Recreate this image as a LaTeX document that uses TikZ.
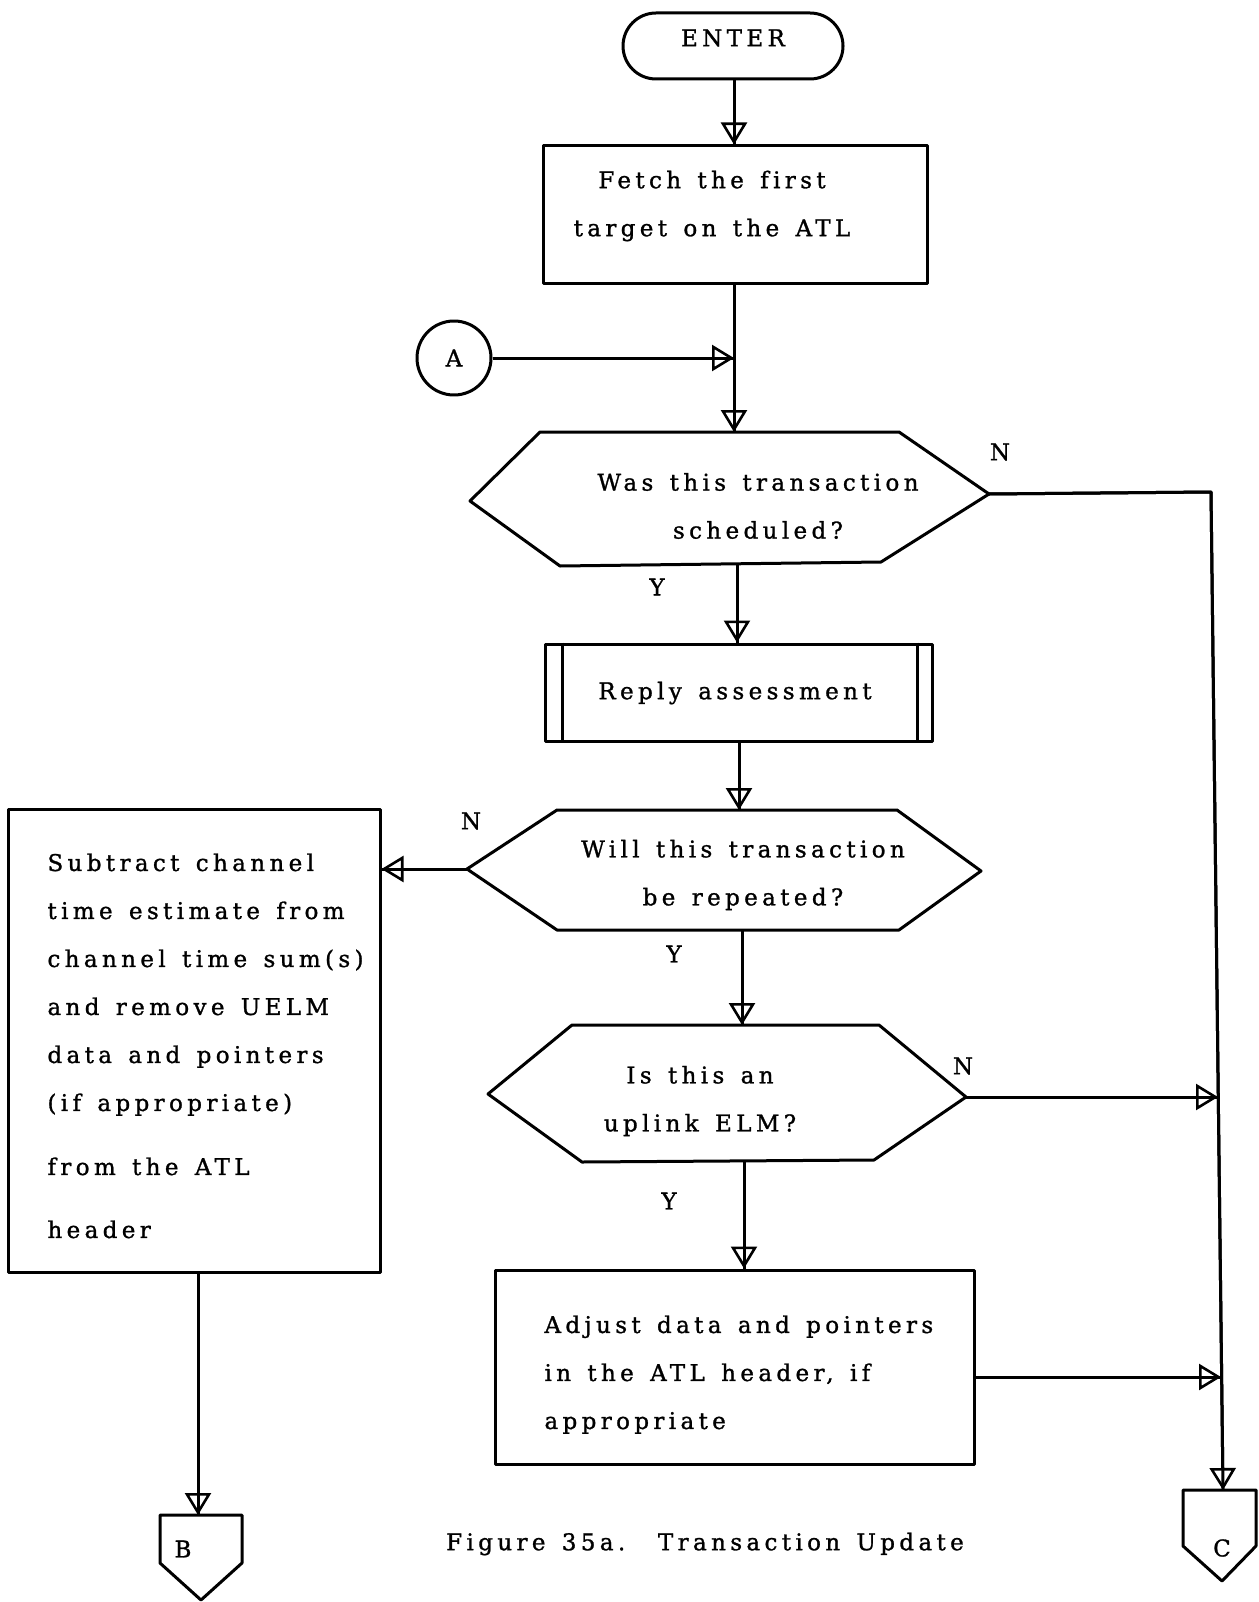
\documentclass[tikz,border=0pt]{standalone}
\usepackage{fontspec}
\setmainfont{DejaVu Serif}[LetterSpace=19,WordSpace=1.4,FakeBold=1.2,Ligatures=NoCommon]
\usetikzlibrary{arrows.meta,calc}
\begin{document}
\begin{tikzpicture}[x=1pt,y=-1pt, line width=3pt, line join=round,
  txt/.style={font=\fontsize{23}{48}\selectfont, inner sep=0pt, align=center},
  box/.style={draw, line width=3pt, inner sep=0pt},
  flow/.style={-{Triangle[open,length=22pt,width=26pt,line width=2.6pt]}, postaction={draw,-}},
  lbl/.style={font=\fontsize{23}{28}\selectfont, inner sep=0pt}]
\useasboundingbox (0,0) rectangle (1258,1602);

% ENTER
\node[box, rounded corners=33pt, minimum width=220pt, minimum height=66pt] (enter) at (733,46) {};
\node[txt] (entertxt) at (733,38) {ENTER};

% Fetch
\node[box, minimum width=384pt, minimum height=138pt] (fetch) at (735,215) {};
\node[txt] (fetchtxt) at (712,206) {Fetch the first\\target on the ATL};

% connector A
\node[draw, circle, minimum size=74pt, inner sep=0pt, font=\fontsize{23}{28}\selectfont] (A) at (454,358) {A};
\coordinate (j) at (734,358);

% Hexagon 1
\coordinate (q1w) at (470,501);
\coordinate (q1nw) at (540,432);
\coordinate (q1ne) at (899,432);
\coordinate (q1e) at (989,494);
\coordinate (q1se) at (881,562);
\coordinate (q1sw) at (560,566);
\coordinate (q1n) at (734,432);
\coordinate (q1s) at (737,564);
\draw (q1w) -- (q1nw) -- (q1ne) -- (q1e) -- (q1se) -- (q1sw) -- cycle;
\node[txt] (q1txt) at (758,506) {Was this transaction\\scheduled?};

% Reply assessment
\node[box, minimum width=387pt, minimum height=97pt] (rep) at (738.5,692.5) {};
\draw ($(rep.north west)+(19,0)$) -- ($(rep.south west)+(19,0)$);
\draw ($(rep.north east)+(-16,0)$) -- ($(rep.south east)+(-16,0)$);
\node[txt] (reptxt) at (735,693) {Reply assessment};

% Hexagon 2
\coordinate (q2w) at (467,869);
\coordinate (q2nw) at (557,810);
\coordinate (q2ne) at (897,810);
\coordinate (q2e) at (981,871);
\coordinate (q2se) at (899,930);
\coordinate (q2sw) at (557,930);
\coordinate (q2n) at (739,810);
\coordinate (q2s) at (742,930);
\draw (q2w) -- (q2nw) -- (q2ne) -- (q2e) -- (q2se) -- (q2sw) -- cycle;
\node[txt] (q2txt) at (743,875) {Will this transaction\\be repeated?};

% Left box
\node[box, minimum width=372pt, minimum height=463pt] (sub) at (194,1040.5) {};
\node[txt, align=left, anchor=north west] (subtxt) at (46,852) {Subtract channel\\time estimate from\\channel time sum(s)\\and remove UELM\\data and pointers\\(if appropriate)\\[16pt]from the ATL\\[15pt]header};

% Hexagon 3
\coordinate (q3w) at (488,1094);
\coordinate (q3nw) at (572,1025);
\coordinate (q3ne) at (879,1025);
\coordinate (q3e) at (966,1097);
\coordinate (q3se) at (874,1160);
\coordinate (q3sw) at (582,1162);
\coordinate (q3n) at (742,1025);
\coordinate (q3s) at (744,1161);
\draw (q3w) -- (q3nw) -- (q3ne) -- (q3e) -- (q3se) -- (q3sw) -- cycle;
\node[txt] (q3txt) at (700,1101) {Is this an\\uplink ELM?};

% Adjust box
\node[box, minimum width=479pt, minimum height=194pt] (adj) at (734.5,1367) {};
\node[txt, align=left, anchor=north west] (adjtxt) at (543,1314) {Adjust data and pointers\\in the ATL header, if\\appropriate};

% Off-page connectors
\coordinate (Btop) at (198,1515);
\draw (160,1515) -- (242,1515) -- (242,1563) -- (201,1600) -- (160,1563) -- cycle;
\node[lbl] (B) at (183,1549) {B};
\coordinate (Ctop) at (1223,1490);
\draw (1183,1490) -- (1256,1490) -- (1256,1546) -- (1222,1581) -- (1183,1546) -- cycle;
\node[lbl] (C) at (1222,1548) {C};

% right trunk points
\coordinate (cr) at (1211,492);
\coordinate (m1) at (1218,1097);
\coordinate (m2) at (1221,1377);

% connectors
\draw[flow] (enter.south -| j) -- (fetch.north -| j);
\draw[flow] (A) -- (j);
\draw[flow] (fetch.south -| j) -- (q1n);
\draw[flow] (q1s) -- (q1s |- rep.north);
\draw[flow] (rep.south -| q2n) -- (q2n);
\draw[flow] (q2w) -- (q2w -| sub.east);
\draw[flow] (q2s) -- (q3n);
\draw[flow] (q3s) -- (q3s |- adj.north);
\draw[flow] (q3e) -- (m1);
\draw[flow] (adj.east |- m2) -- (m2);
\draw[flow] (q1e) -- (cr) -- (Ctop);
\draw[flow] (sub.south -| Btop) -- (Btop);

% labels
\node[lbl] (n1) at (1000,452) {N};
\node[lbl] (y1) at (657,587) {Y};
\node[lbl] (n2) at (471,821) {N};
\node[lbl] (y2) at (674,954) {Y};
\node[lbl] (n3) at (963,1066) {N};
\node[lbl] (y3) at (669,1201) {Y};

% caption
\node[txt] (cap) at (705,1544) {Figure 35a.\ \ Transaction Update};
\end{tikzpicture}
\end{document}
